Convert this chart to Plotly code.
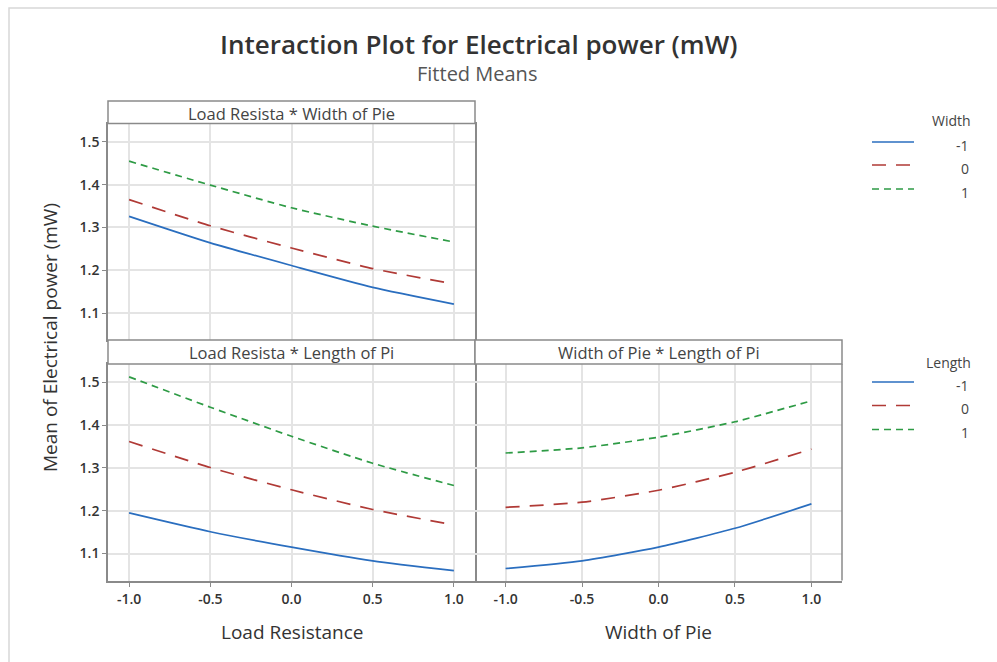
import plotly.graph_objects as go

W, H = 997, 662

# ---------------- data ----------------
x_levels = [-1.0, -0.5, 0.0, 0.5, 1.0]
level_labels = ["-1", "0", "1"]

# Panel 1: Load Resistance * Width of Pie (series = Width level)
lr_width_m1 = [1.326, 1.264, 1.211, 1.160, 1.121]
lr_width_0 = [1.365, 1.304, 1.252, 1.204, 1.168]
lr_width_p1 = [1.455, 1.399, 1.346, 1.303, 1.266]

# Panel 2: Load Resistance * Length of Pi (series = Length level)
lr_length_m1 = [1.195, 1.151, 1.115, 1.083, 1.060]
lr_length_0 = [1.362, 1.301, 1.249, 1.203, 1.167]
lr_length_p1 = [1.513, 1.442, 1.374, 1.311, 1.259]

# Panel 3: Width of Pie * Length of Pi (series = Length level)
wp_length_m1 = [1.065, 1.083, 1.115, 1.159, 1.216]
wp_length_0 = [1.208, 1.220, 1.248, 1.290, 1.344]
wp_length_p1 = [1.335, 1.347, 1.372, 1.408, 1.457]

y_ticks = [1.1, 1.2, 1.3, 1.4, 1.5]
x_ticks = [-1.0, -0.5, 0.0, 0.5, 1.0]
x_tick_text = ["-1.0", "-0.5", "0.0", "0.5", "1.0"]
y_tick_text = ["1.1", "1.2", "1.3", "1.4", "1.5"]

panel_titles = ["Load Resista * Width of Pie", "Load Resista * Length of Pi", "Width of Pie * Length of Pi"]
legend_titles = ["Width", "Length"]

# ---------------- styles ----------------
colors = ["#2a6ebf", "#b03a36", "#2e9b45"]
dashes = ["solid", "14px,10px", "7px,5px"]
FONT = "Open Sans"
GRID = "#e4e4e4"
FRAME = "#8a8a8a"


def px(x):
    return x / W


def py(y):
    return 1 - y / H


fig = go.Figure()

panels = [
    ("x", "y", [lr_width_m1, lr_width_0, lr_width_p1]),
    ("x2", "y2", [lr_length_m1, lr_length_0, lr_length_p1]),
    ("x3", "y3", [wp_length_m1, wp_length_0, wp_length_p1]),
]
for xa, ya, series in panels:
    for i, vals in enumerate(series):
        fig.add_trace(go.Scatter(
            x=x_levels, y=vals, xaxis=xa, yaxis=ya, mode="lines",
            line=dict(color=colors[i], width=1.7, dash=dashes[i], shape="spline", smoothing=0.6),
            showlegend=False, hoverinfo="skip"))

# geometry (pixels)
LX0, LX1 = 108, 475
RX0, RX1 = 475, 842
T_STRIP0, T_PLOT0, T_PLOT1 = 101, 123.5, 340
B_STRIP0, B_PLOT0, B_PLOT1 = 340, 364, 580.5

yrange = [1.037, 1.543]
xrange_left = [-1.13, 1.13]
xrange_right = [-1.2, 1.2]

tickfont = dict(family=FONT, size=14, color="#333333", weight=600)

common_x = dict(range=xrange_left, tickvals=x_ticks, ticktext=x_tick_text, showgrid=True, gridcolor=GRID,
                gridwidth=1.5, zeroline=False, showline=True, linecolor=FRAME, linewidth=1.5, mirror=True,
                tickfont=tickfont)
common_y = dict(range=yrange, tickvals=y_ticks, ticktext=y_tick_text, showgrid=True, gridcolor=GRID,
                gridwidth=1.5, zeroline=False, showline=True, linecolor=FRAME, linewidth=1.5, mirror=True,
                tickfont=tickfont)

fig.update_layout(
    xaxis=dict(common_x, domain=[px(LX0), px(LX1)], anchor="y", showticklabels=False, ticks=""),
    yaxis=dict(common_y, domain=[py(T_PLOT1), py(T_PLOT0)], anchor="x", ticks="outside", ticklen=4,
               tickcolor=FRAME),
    xaxis2=dict(common_x, domain=[px(LX0), px(LX1)], anchor="y2", ticks="outside", ticklen=5,
                tickcolor=FRAME),
    yaxis2=dict(common_y, domain=[py(B_PLOT1), py(B_PLOT0)], anchor="x2", ticks="outside", ticklen=4,
                tickcolor=FRAME),
    xaxis3=dict(common_x, range=xrange_right, domain=[px(RX0), px(RX1)], anchor="y3", ticks="outside",
                ticklen=5, tickcolor=FRAME),
    yaxis3=dict(common_y, domain=[py(B_PLOT1), py(B_PLOT0)], anchor="x3", showticklabels=False, ticks="",
                showline=False),
)

shapes = []
annotations = []

# right border of right panel (left border shared with left panel)
shapes.append(dict(type="line", xref="paper", yref="paper", x0=px(RX1), x1=px(RX1), y0=py(B_PLOT1), y1=py(B_PLOT0),
                   line=dict(color=FRAME, width=1.5), layer="above"))

# strips
strips = [(LX0, LX1, T_STRIP0, T_PLOT0), (LX0, LX1, B_STRIP0, B_PLOT0), (RX0, RX1, B_STRIP0, B_PLOT0)]
for (x0, x1, y0, y1), title in zip(strips, panel_titles):
    shapes.append(dict(type="rect", xref="paper", yref="paper", x0=px(x0), x1=px(x1), y0=py(y1), y1=py(y0),
                       line=dict(color=FRAME, width=1.5), fillcolor="white", layer="above"))
    annotations.append(dict(xref="paper", yref="paper", x=px((x0 + x1) / 2), y=py((y0 + y1) / 2 + 1),
                            text=title, showarrow=False, xanchor="center", yanchor="middle",
                            font=dict(family=FONT, size=16.5, color="#444444")))

# outer light border
shapes.append(dict(type="rect", xref="paper", yref="paper", x0=px(9), x1=px(1010), y0=py(680), y1=py(8),
                   line=dict(color="#d8d8d8", width=1.5), layer="below"))

# manual legends
legend_specs = [(legend_titles[0], 121, [142, 165, 189]), (legend_titles[1], 362, [382, 405.5, 429.5])]
for title, ty, ys in legend_specs:
    annotations.append(dict(xref="paper", yref="paper", x=px(973), y=py(ty), text=title, showarrow=False,
                            xanchor="right", yanchor="middle", font=dict(family=FONT, size=14, color="#444444")))
    for i, yy in enumerate(ys):
        shapes.append(dict(type="line", xref="paper", yref="paper", x0=px(872), x1=px(914), y0=py(yy), y1=py(yy),
                           line=dict(color=colors[i], width=1.7, dash=dashes[i])))
        annotations.append(dict(xref="paper", yref="paper", x=px(971), y=py(yy + 3), text=level_labels[i],
                                showarrow=False, xanchor="right", yanchor="middle",
                                font=dict(family=FONT, size=14, color="#444444")))

# titles
annotations.append(dict(xref="paper", yref="paper", x=px(478), y=py(44),
                        text="Interaction Plot for Electrical power (mW)", showarrow=False,
                        xanchor="center", yanchor="middle",
                        font=dict(family=FONT, size=26, color="#333333", weight=600)))
annotations.append(dict(xref="paper", yref="paper", x=px(477), y=py(73), text="Fitted Means", showarrow=False,
                        xanchor="center", yanchor="middle", font=dict(family=FONT, size=20, color="#555555")))
annotations.append(dict(xref="paper", yref="paper", x=px(50), y=py(338), text="Mean of Electrical power (mW)",
                        showarrow=False, textangle=-90, xanchor="center", yanchor="middle",
                        font=dict(family=FONT, size=19, color="#333333")))
annotations.append(dict(xref="paper", yref="paper", x=px(292), y=py(632), text="Load Resistance",
                        showarrow=False, xanchor="center", yanchor="middle",
                        font=dict(family=FONT, size=19, color="#333333")))
annotations.append(dict(xref="paper", yref="paper", x=px(658), y=py(632), text="Width of Pie",
                        showarrow=False, xanchor="center", yanchor="middle",
                        font=dict(family=FONT, size=19, color="#333333")))

fig.update_layout(
    width=W, height=H, margin=dict(l=0, r=0, t=0, b=0),
    paper_bgcolor="white", plot_bgcolor="white",
    shapes=shapes, annotations=annotations, showlegend=False,
)

fig.write_html("out.html")
